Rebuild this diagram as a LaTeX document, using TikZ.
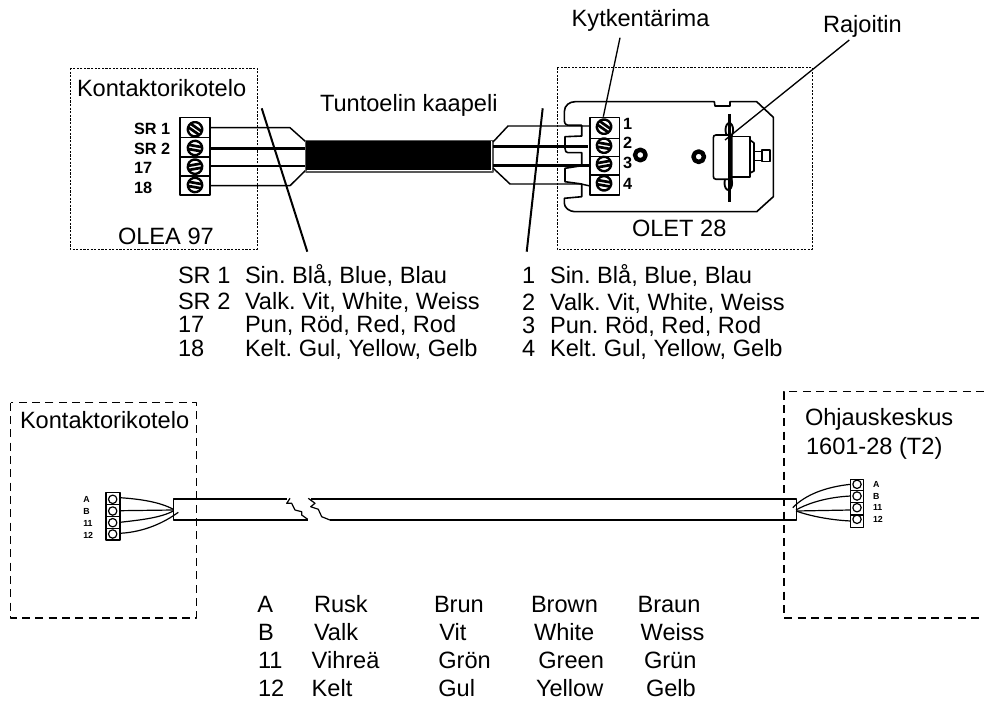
\documentclass[tikz,border=0pt]{standalone}
\usepackage{fontspec}
\setmainfont{Liberation Sans}
\tikzset{
  txt/.style={anchor=base west,inner sep=0pt,outer sep=0pt,font=\fontsize{17.7}{20}\selectfont},
  blab/.style={anchor=base west,inner sep=0pt,outer sep=0pt,font=\fontsize{12.2}{14}\selectfont\bfseries},
  slab/.style={anchor=base west,inner sep=0pt,outer sep=0pt,font=\fontsize{6.6}{8}\selectfont\bfseries},
  dotbox/.style={draw,line width=0.7pt,dash pattern=on 1.6pt off 1.1pt},
  dashbox/.style={draw,line width=0.8pt,dash pattern=on 6pt off 4pt},
  thinwire/.style={draw,line width=1.1pt},
  thickwire/.style={draw,line width=1.9pt},
  cutline/.style={draw,line width=1.5pt},
  leader/.style={draw,line width=1pt},
  housing/.style={draw,line width=1.2pt},
  pline/.style={draw,line width=0.9pt},
}
\newcommand{\screw}[3]{% x,y,angle
  \begin{scope}[shift={(#1,#2)},rotate=#3]
    \fill[white] (0,0) circle (7.5);
    \draw[line width=1.8pt] (0,0) circle (7.2);
    \fill[black] (-7,-3.4) rectangle (7,-0.7);
    \fill[black] (-7,0.8) rectangle (7,3.5);
  \end{scope}}
\begin{document}
\frenchspacing
\begin{tikzpicture}[x=0.75pt,y=-0.75pt,line join=round]
\useasboundingbox (0,0) rectangle (984,702);
% upper boxes
\path[dotbox] (70,68) rectangle (257,249);
\path[dotbox] (557.3,67.7) rectangle (812.3,249.3);
% left wires
\coordinate (LA) at (210,127.7);
\coordinate (LB) at (210,148.3);
\coordinate (LC) at (210,166);
\coordinate (LD) at (210,185.7);
\path[thinwire] (LA) -- (290,127.7) -- (306,142);
\path[thinwire] (LD) -- (290,185.7) -- (306,170);
\path[thickwire] (LB) -- (306,148.3);
\path[thickwire] (LC) -- (306,166);
% cable
\draw[line width=0.8pt,draw=black!65] (306,140.5) rectangle (493,172);
\fill[black] (306,141) rectangle (491,170);
% right wires
\path[thinwire] (493,142) -- (508,126) -- (590,126);
\path[thinwire] (493,168) -- (510,184) -- (581,184) -- (590,186);
\path[thickwire] (493,146.7) -- (588,146.7);
\path[thickwire] (493,165.7) -- (590,165.7);
% housing
\path[housing] (564.3,111.7) -- (564.3,120) .. controls (564.3,124) and (566,125.3) .. (570,125.3) -- (581.7,125.3) -- (581.7,136) -- (565,136.7) -- (565,148.3) .. controls (565,151) and (566,152.7) .. (568,152.7) -- (581.7,152.7) -- (581.7,165.7) -- (565,168.3) -- (565,181.7) -- (581.7,184) -- (581.7,196.7) -- (564.3,198.3) -- (564.3,203.3) .. controls (564.3,208) and (570,211.7) .. (575,211.7) -- (756.7,211.7) -- (773.3,196.7) -- (773.3,117.3) -- (756.7,101.7) -- (730,101.7) -- (730,106) -- (715,106) -- (714.3,101.7) -- (575,101.7) .. controls (570,101.7) and (564.3,105) .. (564.3,111.7) -- cycle;
% left block
\draw[line width=1.1pt,fill=white] (180,117.3) rectangle (210,195);
\draw[line width=1.1pt] (180,137.3) -- (210,137.3) (180,157) -- (210,157) (180,176) -- (210,176);
\screw{195}{129.3}{-35}
\screw{195}{148}{-10}
\screw{195}{166.7}{10}
\screw{195}{185}{-10}
% right block
\draw[line width=1.1pt,fill=white] (590,117.3) rectangle (619.3,195);
\draw[line width=1.1pt] (590,138.3) -- (619.3,138.3) (590,156.7) -- (619.3,156.7) (590,175) -- (619.3,175);
\screw{604}{126.7}{-35}
\screw{604}{145.7}{-10}
\screw{604}{164}{10}
\screw{604}{183.3}{-10}
% holes
\draw[line width=3.3pt] (640.3,155) circle (5.3);
\draw[line width=3.3pt] (698.7,156.7) circle (5.3);
% limiter
\draw[line width=1.4pt] (729.3,130) ellipse (3.8 and 7);
\draw[line width=1.4pt] (728.3,183) ellipse (3.8 and 7);
\draw[line width=1.2pt,fill=white] (713.3,138) .. controls (713.3,136) and (714,135) .. (716,135) -- (731.7,135) -- (731.7,179.3) -- (716,179.3) .. controls (714,179.3) and (713.3,178) .. (713.3,176) -- cycle;
\draw[line width=1.2pt] (731.7,136.7) -- (750,136.7) -- (750,177.3) -- (731.7,177.3);
\draw[line width=1.2pt] (750,140) -- (754,143) -- (754,171) -- (750,173);
\draw[line width=1.2pt] (754,151.7) -- (761.7,151.7) (754,160.7) -- (761.7,160.7);
\draw[line width=1.2pt] (761.7,150) rectangle (770,161.7);
\draw[line width=2pt] (729.3,114) -- (729.3,201.7);
% cuts
\coordinate (C1a) at (261.7,108.3);
\coordinate (C1b) at (307.3,251.7);
\coordinate (C2a) at (542.7,108.3);
\coordinate (C2b) at (526.7,251.7);
\path[cutline] (C1a) -- (C1b);
\path[cutline] (C2a) -- (C2b);
% upper labels
\node[txt] (kont1) at (77,97) {Kontaktorikotelo};
\node[txt] (tunto) at (320,111.7) {Tuntoelin kaapeli};
\node[txt] (kyt) at (571.7,27) {Kytkentärima};
\node[txt] (raj) at (823,32.3) {Rajoitin};
\node[txt] (olea) at (118,244) {OLEA 97};
\node[txt] (olet) at (632,237) {OLET 28};
\coordinate (kytend) at (603.3,116.7);
\coordinate (kytstart) at (620,37.7);
\coordinate (rajstart) at (849.3,40);
\coordinate (rajend) at (725,140);
\path[leader] (kytstart) -- (kytend);
\path[leader] (rajstart) -- (rajend);
\node[blab] (s1) at (134,135) {SR 1};
\node[blab] (s2) at (134,155) {SR 2};
\node[blab] (s3) at (134,174) {17};
\node[blab] (s4) at (134,194) {18};
\node[blab] (n1) at (623,130) {1};
\node[blab] (n2) at (623,149) {2};
\node[blab] (n3) at (623,169) {3};
\node[blab] (n4) at (623,190) {4};
% table 1
\node[txt] (a1) at (178,283.3) {SR 1};
\node[txt] (a2) at (178,309.3) {SR 2};
\node[txt] (a3) at (178,332.7) {17};
\node[txt] (a4) at (178,356) {18};
\node[txt] (b1) at (245,283.3) {Sin. Blå, Blue, Blau};
\node[txt] (b2) at (245,309.3) {Valk. Vit, White, Weiss};
\node[txt] (b3) at (245,332.7) {Pun, Röd, Red, Rod};
\node[txt] (b4) at (245,356) {Kelt. Gul, Yellow, Gelb};
% table 2
\node[txt] (c1) at (522,283.3) {1};
\node[txt] (c2) at (522,310) {2};
\node[txt] (c3) at (522,333.3) {3};
\node[txt] (c4) at (522,356) {4};
\node[txt] (d1) at (550,283.3) {Sin. Blå, Blue, Blau};
\node[txt] (d2) at (550,310) {Valk. Vit, White, Weiss};
\node[txt] (d3) at (550,333.3) {Pun. Röd, Red, Rod};
\node[txt] (d4) at (550,356) {Kelt. Gul, Yellow, Gelb};
% lower boxes
\path[dashbox] (10.7,402.7) rectangle (196.7,618);
\path[dashbox] (984,391.7) -- (784,391.7) -- (784,618) -- (984,618);
\node[txt] (kont2) at (20,428) {Kontaktorikotelo};
\node[txt] (ohj) at (805,425) {Ohjauskeskus};
\node[txt] (ohj2) at (806,454) {1601-28 (T2)};
% lower cable
\coordinate (p1) at (173.3,499);
\coordinate (p2) at (173.3,520);
\path[pline] (286.7,499) -- (p1) -- (p2) -- (307.7,520);
\path[pline] (290,498.3) -- (286.7,503.3) -- (291.7,503.3) -- (295,510) -- (301.7,511.7) -- (301.7,515) -- (307.7,519.3);
\path[pline] (308.3,498.3) -- (315,503.3) -- (310.7,506.7) -- (318.3,509.3) -- (321.7,516.7) -- (330,520);
\path[pline] (310.7,499) -- (796.7,499) -- (796.7,520) -- (330,520);
% left terminal
\draw[line width=0.9pt] (106,492.3) rectangle (120,540);
\draw[line width=0.9pt] (106,504.3) -- (120,504.3) (106,516.7) -- (120,516.7) (106,528.3) -- (120,528.3);
\foreach \y in {499.3,511,522.7,534} \draw[line width=0.9pt] (112.7,\y) circle (4.2);
\path[pline] (120,497.7) .. controls (140,499) and (160,502) .. (173.3,509.3);
\path[pline] (120,510.7) -- (173.3,510);
\path[pline] (120,522.3) .. controls (140,520) and (160,518) .. (173.3,511);
\path[pline] (120,533.3) .. controls (145,532) and (165,522) .. (178.3,512.3);
% right terminal
\draw[line width=0.9pt] (850.7,479.3) rectangle (863.3,527.7);
\draw[line width=0.9pt] (850.7,490.7) -- (863.3,490.7) (850.7,502.7) -- (863.3,502.7) (850.7,515) -- (863.3,515);
\foreach \y in {484.3,496,507.7,519.3} \draw[line width=0.9pt] (857,\y) circle (4.2);
\path[pline] (850.7,484.3) .. controls (825,487) and (805,495) .. (792.7,507.7);
\path[pline] (850.7,496) .. controls (830,497) and (810,502) .. (796,510);
\path[pline] (850.7,510) -- (796,511);
\path[pline] (850.7,521) .. controls (830,520) and (810,516) .. (796,511);
% small labels
\node[slab] (la) at (83.3,502.5) {A};
\node[slab] (lb) at (83.3,514) {B};
\node[slab] (lc) at (83.3,526) {11};
\node[slab] (ld) at (83.3,538) {12};
\node[slab] (ra) at (873,487) {A};
\node[slab] (rb) at (873,499) {B};
\node[slab] (rc) at (873,510.5) {11};
\node[slab] (rd) at (873,522.5) {12};
% table 3
\node[txt] (e1) at (257.3,612.7) {A};
\node[txt] (e2) at (258,640.7) {B};
\node[txt] (e3) at (258,668.3) {11};
\node[txt] (e4) at (258,696) {12};
\node[txt] (f1) at (314,612.7) {Rusk};
\node[txt] (f2) at (314,640.7) {Valk};
\node[txt] (f3) at (311.7,668.3) {Vihreä};
\node[txt] (f4) at (311.7,696) {Kelt};
\node[txt] (g1) at (434,612.7) {Brun};
\node[txt] (g2) at (439.3,640.7) {Vit};
\node[txt] (g3) at (438.3,668.3) {Grön};
\node[txt] (g4) at (438.3,696) {Gul};
\node[txt] (h1) at (531,612.7) {Brown};
\node[txt] (h2) at (534,640.7) {White};
\node[txt] (h3) at (538.3,668.3) {Green};
\node[txt] (h4) at (536,696) {Yellow};
\node[txt] (i1) at (637.5,612.7) {Braun};
\node[txt] (i2) at (640.7,640.7) {Weiss};
\node[txt] (i3) at (644,668.3) {Grün};
\node[txt] (i4) at (646,696) {Gelb};
\end{tikzpicture}
\end{document}
